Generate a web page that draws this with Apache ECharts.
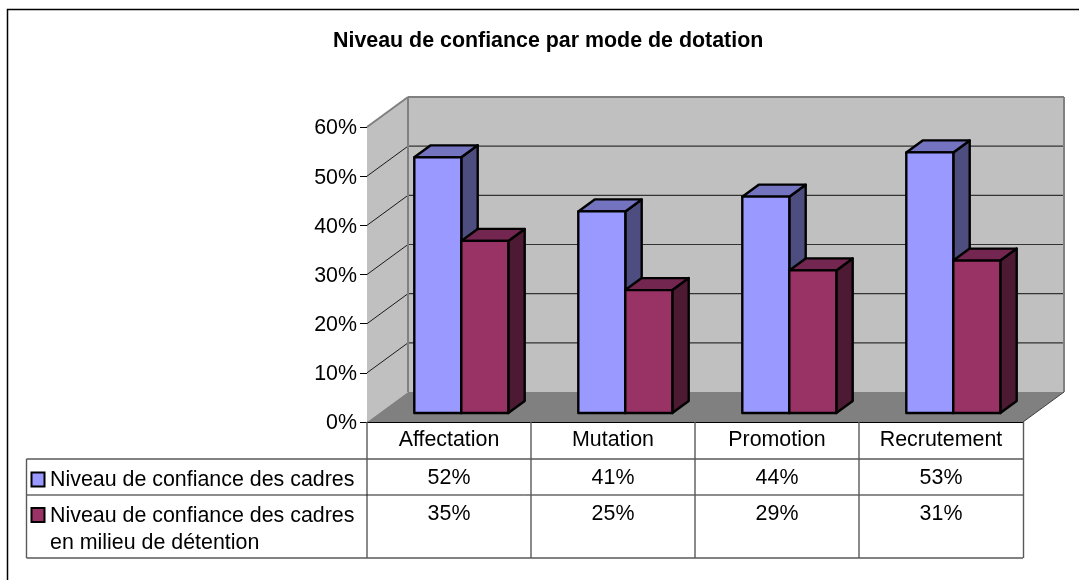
<!DOCTYPE html>
<html>
<head>
<meta charset="utf-8">
<style>
  html, body { margin: 0; padding: 0; background: #fff; }
  #chart { width: 1079px; height: 580px; }
</style>
<script src="https://cdn.jsdelivr.net/npm/echarts@6/dist/echarts.min.js"></script>
</head>
<body>
<div id="chart"></div>
<script>
const categories = ['Affectation', 'Mutation', 'Promotion', 'Recrutement'];
const cadres = [52, 41, 44, 53];
const detention = [35, 25, 29, 31];
const ticks = [0, 10, 20, 30, 40, 50, 60];
const seriesLabels = [
  ['Niveau de confiance des cadres'],
  ['Niveau de confiance des cadres', 'en milieu de détention'],
];

const FONT = '"Liberation Sans", Arial, sans-serif';
const FONT_SIZE = 21.4;
const DEPTH_X = 41;
const DEPTH_Y = -30;

const chart = echarts.init(document.getElementById('chart'), null, { renderer: 'canvas' });

function poly(points, fill, stroke, lineWidth) {
  return {
    type: 'polygon',
    shape: { points: points },
    style: { fill: fill, stroke: stroke || null, lineWidth: lineWidth || 0, lineJoin: 'round' },
  };
}

function line(x1, y1, x2, y2, stroke, lineWidth) {
  return {
    type: 'line',
    shape: { x1: x1, y1: y1, x2: x2, y2: y2 },
    style: { stroke: stroke, lineWidth: lineWidth || 1 },
  };
}

function text(x, y, str, align) {
  return {
    type: 'text',
    x: x,
    y: y,
    style: { text: str, fill: '#000', font: FONT_SIZE + 'px ' + FONT, align: align, verticalAlign: 'middle' },
  };
}

// back walls, floor and gridlines, all hung off the grid's rectangle
function renderWalls(params, api) {
  const c = params.coordSys;
  const left = c.x;
  const right = c.x + c.width;
  const bottom = c.y + c.height;
  const top = c.y;
  const children = [
    poly([[left, top], [left + DEPTH_X, top + DEPTH_Y], [left + DEPTH_X, bottom + DEPTH_Y], [left, bottom]], '#c0c0c0'),
    poly([[left + DEPTH_X, top + DEPTH_Y], [right + DEPTH_X, top + DEPTH_Y], [right + DEPTH_X, bottom + DEPTH_Y], [left + DEPTH_X, bottom + DEPTH_Y]], '#c0c0c0'),
    poly([[left, bottom], [right, bottom], [right + DEPTH_X, bottom + DEPTH_Y], [left + DEPTH_X, bottom + DEPTH_Y]], '#808080'),
  ];
  ticks.forEach(function (t) {
    if (t === 0 || t === 60) return;
    const y = api.coord([0, t])[1];
    children.push(line(left, y, left + DEPTH_X, y + DEPTH_Y, '#1a1a1a', 1));
    children.push(line(left + DEPTH_X, y + DEPTH_Y, right + DEPTH_X, y + DEPTH_Y, '#333', 1.2));
  });
  children.push(line(left, top, left + DEPTH_X, top + DEPTH_Y, '#808080', 2));
  children.push(line(left + DEPTH_X, top + DEPTH_Y, left + DEPTH_X, bottom + DEPTH_Y, '#808080', 2));
  children.push(line(left + DEPTH_X, top + DEPTH_Y, right + DEPTH_X, top + DEPTH_Y, '#808080', 2));
  children.push(line(right + DEPTH_X, top + DEPTH_Y, right + DEPTH_X, bottom + DEPTH_Y, '#808080', 2));
  children.push(line(right, bottom, right + DEPTH_X, bottom + DEPTH_Y, '#404040', 1));
  return { type: 'group', children: children };
}

// box with front, top and side faces; seriesPos 0 = left of the centre, 1 = right
function makeBoxRenderer(seriesPos, front, topFace, side) {
  return function (params, api) {
    const cat = api.value(0);
    const base = api.coord([cat, 0]);
    const head = api.coord([cat, api.value(1)]);
    const barW = api.size([1, 0])[0] * 0.2866;
    const sx = DEPTH_X * 0.3;
    const sy = DEPTH_Y * 0.3;
    const dx = DEPTH_X * 0.4;
    const dy = DEPTH_Y * 0.4;
    const x0 = base[0] + sx + (seriesPos - 1) * barW;
    const x1 = x0 + barW;
    const yb = base[1] + sy;
    const yt = head[1] + sy;
    const edge = '#000';
    return {
      type: 'group',
      children: [
        poly([[x1, yt], [x1 + dx, yt + dy], [x1 + dx, yb + dy], [x1, yb]], side, edge, 2.4),
        poly([[x0, yt], [x0 + dx, yt + dy], [x1 + dx, yt + dy], [x1, yt]], topFace, edge, 2.4),
        poly([[x0, yt], [x1, yt], [x1, yb], [x0, yb]], front, edge, 2.4),
      ],
    };
  };
}

// data table under the axis, plus the value axis labels
function renderTable(params, api) {
  const c = params.coordSys;
  const left = c.x;
  const right = c.x + c.width;
  const bottom = c.y + c.height;
  const rowA = 459;
  const rowB = 495;
  const rowC = 558;
  const tableLeft = 26.5;
  const grey = '#595959';
  const children = [
    line(left, bottom, left, rowC, grey, 1.4),
    line(right + 0.5, bottom, right + 0.5, rowC, grey, 1.4),
    line(tableLeft, rowA, right, rowA, grey, 1.4),
    line(tableLeft, rowB, right, rowB, '#1a1a1a', 1),
    line(tableLeft, rowC, right, rowC, grey, 1.4),
    line(tableLeft, rowA, tableLeft, rowC, grey, 1.4),
  ];
  ticks.forEach(function (t) {
    children.push(text(left - 10, api.coord([0, t])[1] + 1.5, t + '%', 'right'));
  });
  categories.forEach(function (name, i) {
    const cx = api.coord([i, 0])[0];
    const w = api.size([1, 0])[0];
    if (i > 0) children.push(line(cx - w / 2, bottom, cx - w / 2, rowC, grey, 1.4));
    children.push(text(cx, 440, name, 'center'));
    children.push(text(cx, 478, cadres[i] + '%', 'center'));
    children.push(text(cx, 514, detention[i] + '%', 'center'));
  });
  const keys = [['#9999ff', 472.5], ['#993366', 508]];
  keys.forEach(function (k) {
    children.push({
      type: 'rect',
      shape: { x: 31.5, y: k[1], width: 13, height: 14 },
      style: { fill: k[0], stroke: '#000', lineWidth: 2 },
    });
  });
  children.push(text(50, 480, seriesLabels[0][0], 'left'));
  children.push(text(50, 516, seriesLabels[1][0], 'left'));
  children.push(text(50, 543, seriesLabels[1][1], 'left'));
  return { type: 'group', children: children };
}

const option = {
  animation: false,
  backgroundColor: '#fff',
  textStyle: { fontFamily: FONT },
  title: {
    text: 'Niveau de confiance par mode de dotation',
    left: 333,
    top: 31,
    padding: 0,
    textStyle: { fontSize: FONT_SIZE, fontWeight: 'bold', color: '#000', fontFamily: FONT },
  },
  grid: { left: 367, right: 56, top: 127, bottom: 158 },
  xAxis: {
    type: 'category',
    data: categories,
    axisLine: { show: true, lineStyle: { color: '#000', width: 1 } },
    axisTick: { show: false },
    axisLabel: { show: false },
  },
  yAxis: {
    type: 'value',
    min: 0,
    max: 60,
    interval: 10,
    axisLine: { show: true, lineStyle: { color: '#333', width: 1 } },
    axisTick: { show: true, length: 7, lineStyle: { color: '#000' } },
    axisLabel: { show: false },
    splitLine: { show: false },
  },
  graphic: [
    {
      type: 'polyline',
      shape: { points: [[7.5, 580], [7.5, 9.5], [1079, 9.5]] },
      style: { fill: 'none', stroke: '#000', lineWidth: 1.5 },
      z: 100,
    },
  ],
  series: [
    { type: 'custom', name: 'walls', z: 1, data: [[0, 0]], renderItem: renderWalls, silent: true },
    {
      type: 'custom',
      name: 'Niveau de confiance des cadres',
      z: 2,
      encode: { x: 0, y: 1 },
      data: cadres.map(function (v, i) { return [i, v]; }),
      renderItem: makeBoxRenderer(0, '#9999ff', '#7373bf', '#4d4d80'),
    },
    {
      type: 'custom',
      name: 'Niveau de confiance des cadres en milieu de détention',
      z: 3,
      encode: { x: 0, y: 1 },
      data: detention.map(function (v, i) { return [i, v]; }),
      renderItem: makeBoxRenderer(1, '#993366', '#732650', '#4d1a33'),
    },
    { type: 'custom', name: 'table', z: 4, data: [[0, 0]], renderItem: renderTable, silent: true },
  ],
};

chart.setOption(option);
</script>
</body>
</html>
